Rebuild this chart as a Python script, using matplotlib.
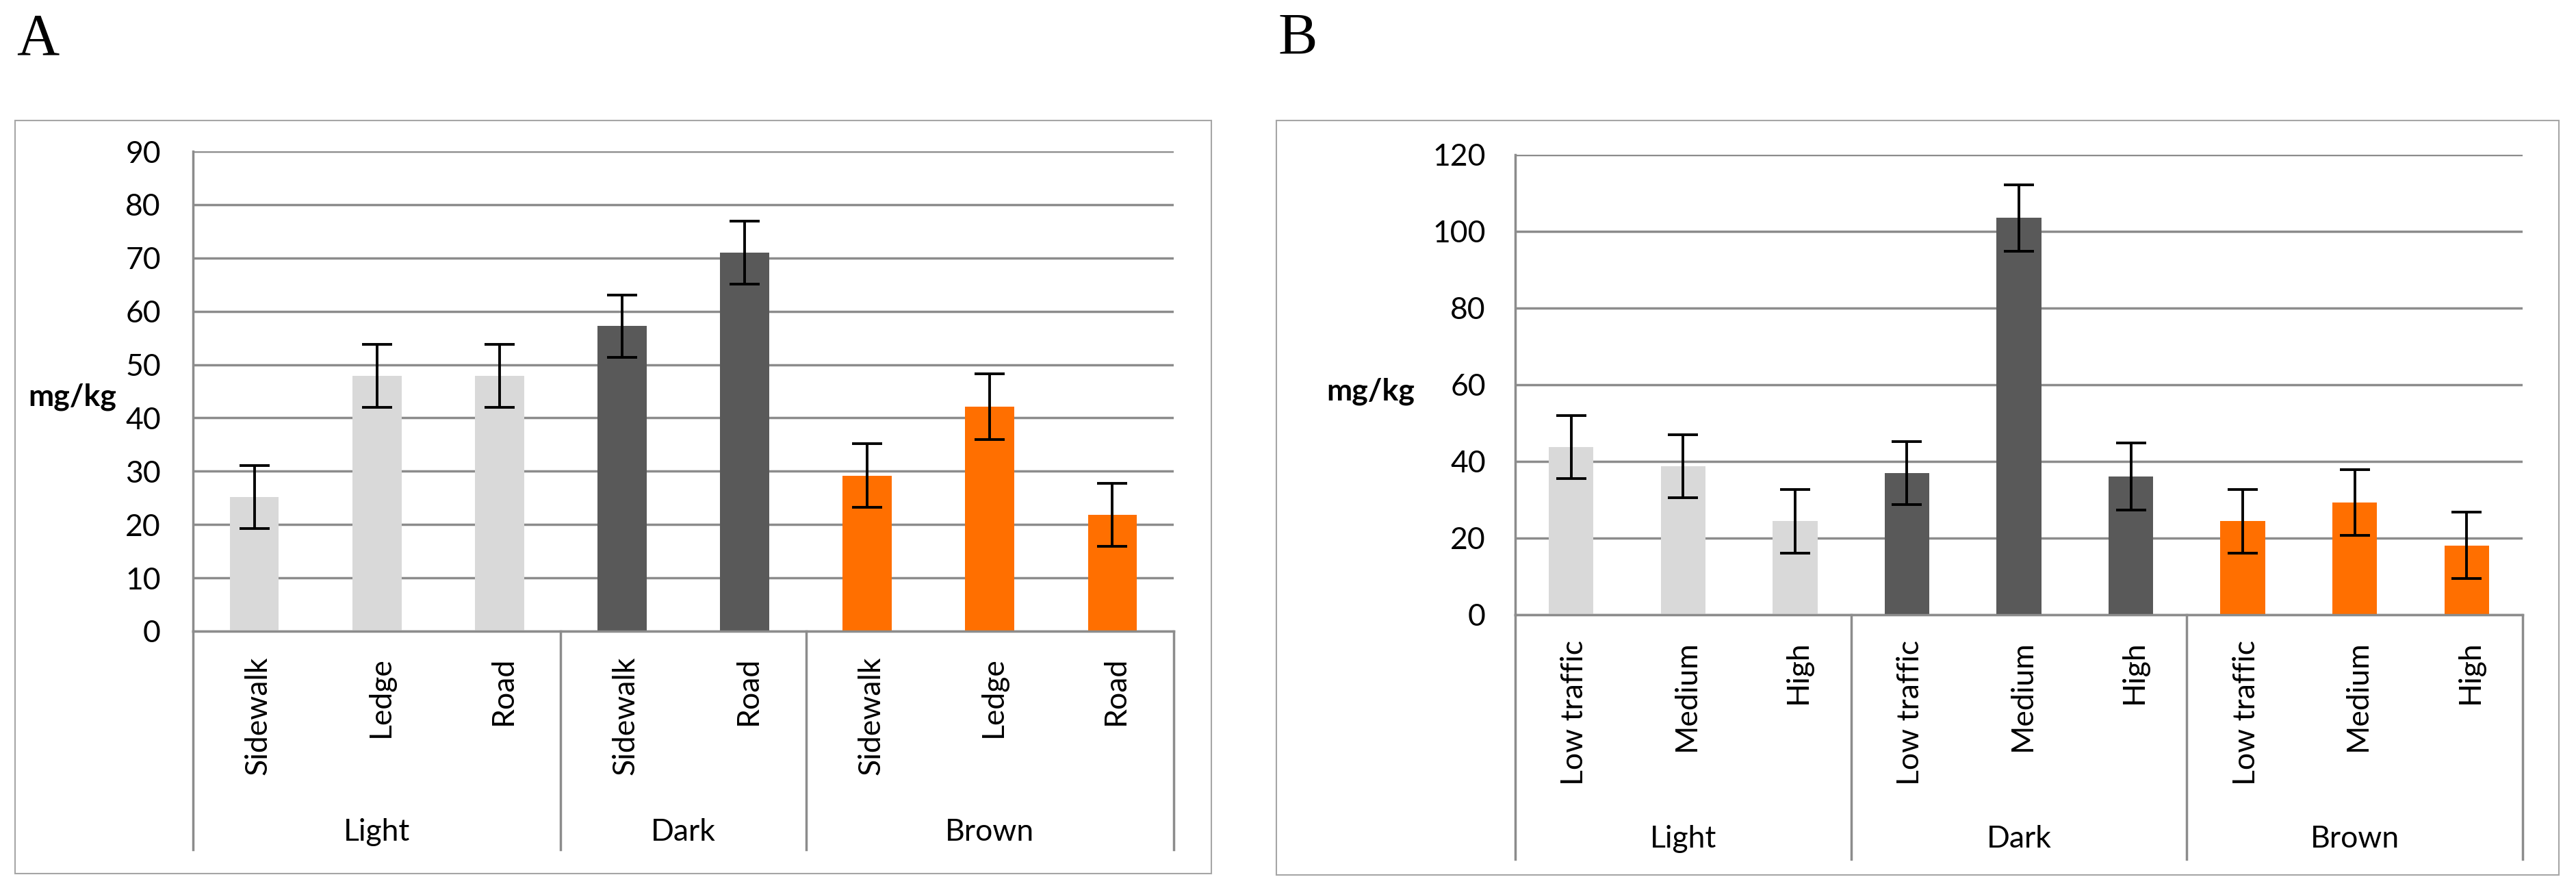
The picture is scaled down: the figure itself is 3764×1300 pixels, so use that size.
import matplotlib.pyplot as plt
from matplotlib.patches import Rectangle
from matplotlib.transforms import blended_transform_factory

# ---- data (mg/kg) ----
a_sites = ['Sidewalk', 'Ledge', 'Road', 'Sidewalk', 'Road', 'Sidewalk', 'Ledge', 'Road']
a_groups = ['Light', 'Light', 'Light', 'Dark', 'Dark', 'Brown', 'Brown', 'Brown']
a_mean = [25.2, 47.9, 47.9, 57.2, 71.0, 29.2, 42.1, 21.8]
a_err = [5.9, 5.9, 5.9, 5.9, 5.9, 6.0, 6.2, 5.9]

b_sites = ['Low traffic', 'Medium', 'High', 'Low traffic', 'Medium', 'High',
           'Low traffic', 'Medium', 'High']
b_groups = ['Light', 'Light', 'Light', 'Dark', 'Dark', 'Dark', 'Brown', 'Brown', 'Brown']
b_mean = [43.8, 38.8, 24.4, 36.9, 103.5, 36.1, 24.4, 29.3, 18.1]
b_err = [8.2, 8.2, 8.3, 8.2, 8.6, 8.7, 8.3, 8.6, 8.6]

group_colors = {'Light': '#D9D9D9', 'Dark': '#595959', 'Brown': '#FF6F00'}

W, H = 3764, 1300
FONT = 'Lato'
GRID = '#8C8C8C'

fig = plt.figure(figsize=(W / 100, H / 100), dpi=100)


def fx(px):
    return px / W


def fy(py):
    return 1 - py / H


def panel(letter, frame, box, sites, groups, means, errs, ymax, ystep,
          lab_x, lab_y, tick_pad, grp_y, line_bottom):
    # outer frame of the chart
    fx0, fy0, fx1, fy1 = frame
    fig.add_artist(Rectangle((fx(fx0), fy(fy1)), fx(fx1 - fx0), fy1 / H - fy0 / H,
                             transform=fig.transFigure, fill=False,
                             ec='#A6A6A6', lw=1.5))
    fig.text(fx(fx0 + 2), fy(79), letter, family='Liberation Serif', size=62,
             ha='left', va='baseline')

    left, top, right, bottom = box
    ax = fig.add_axes([fx(left), fy(bottom), fx(right - left), (bottom - top) / H])
    n = len(sites)
    xs = list(range(n))
    cols = [group_colors[g] for g in groups]
    ax.bar(xs, means, width=0.4, color=cols, zorder=2)
    ax.errorbar(xs, means, yerr=errs, fmt='none', ecolor='black', elinewidth=2.8,
                capsize=16, capthick=2.8, zorder=3)

    ax.set_xlim(-0.5, n - 0.5)
    ax.set_ylim(0, ymax)
    ax.set_yticks(range(0, ymax + 1, ystep))
    ax.yaxis.grid(True, color=GRID, lw=2.5, zorder=0)
    ax.set_axisbelow(True)
    ax.tick_params(axis='y', length=0, pad=tick_pad, labelsize=32)
    for t in ax.get_yticklabels():
        t.set_family(FONT)
    ax.set_xticks([])
    for s in ['top', 'right']:
        ax.spines[s].set_visible(False)
    for s in ['left', 'bottom']:
        ax.spines[s].set_color(GRID)
        ax.spines[s].set_linewidth(2.5)

    fig.text(fx(lab_x), fy(lab_y), 'mg/kg', family=FONT, weight='bold', size=32,
             ha='right', va='center')

    # multi-level category axis
    tr = blended_transform_factory(ax.transData, fig.transFigure)
    for x, s in zip(xs, sites):
        ax.text(x + 0.03, fy(bottom + 37), s, transform=tr, rotation=90,
                ha='center', va='top', family=FONT, size=32)

    bounds = [0]
    for i in range(1, n):
        if groups[i] != groups[i - 1]:
            bounds.append(i)
    bounds.append(n)
    for b in bounds:
        ax.plot([b - 0.5, b - 0.5], [fy(bottom), fy(line_bottom)], transform=tr,
                color=GRID, lw=2.5, clip_on=False)
    for b0, b1 in zip(bounds[:-1], bounds[1:]):
        ax.text((b0 + b1 - 1) / 2, fy(grp_y), groups[b0], transform=tr,
                ha='center', va='center', family=FONT, size=32)
    return ax


panel('A', (22, 176, 1770, 1276), (282, 221, 1715, 922),
      a_sites, a_groups, a_mean, a_err, 90, 10,
      170, 580, 34, 1216, 1241)
panel('B', (1865, 176, 3739, 1278), (2214, 226, 3686, 898),
      b_sites, b_groups, b_mean, b_err, 120, 20,
      2067, 572, 31, 1226, 1255)

fig.savefig('out.png', dpi=100, facecolor='white')
